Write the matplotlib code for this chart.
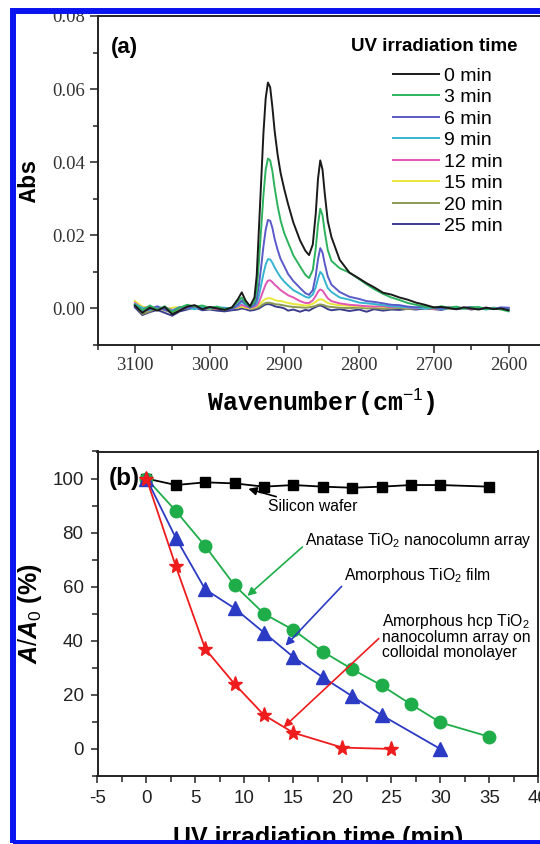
import numpy as np
import matplotlib
matplotlib.use("Agg")
import matplotlib.pyplot as plt
from matplotlib.patches import Rectangle
from matplotlib.ticker import MultipleLocator, FormatStrFormatter
from matplotlib import font_manager

plt.rcParams['axes.unicode_minus'] = False
plt.rcParams['mathtext.fontset'] = 'custom'
plt.rcParams['mathtext.rm'] = 'Liberation Sans'
plt.rcParams['mathtext.it'] = 'Liberation Sans:italic:bold'
plt.rcParams['mathtext.bf'] = 'Liberation Sans:bold'

# ---- panel (a): FTIR spectra, absorbance in units of 0.001 ----
wavenumber = [3100, 3090, 3080, 3070, 3060, 3050, 3040, 3030, 3020, 3010,
              3000, 2990, 2980, 2970, 2962, 2957, 2952, 2946,
              2940, 2937, 2934, 2931, 2928, 2925, 2922, 2919, 2916, 2913, 2909, 2905, 2900,
              2895, 2888, 2879,
              2872, 2867, 2862, 2858, 2855, 2852, 2849, 2846, 2842, 2837,
              2826, 2813, 2800, 2790, 2780, 2768, 2757, 2746, 2735, 2724, 2712, 2700,
              2690, 2680, 2670, 2660, 2650, 2640, 2630, 2620, 2610, 2600]

abs_0 = [0.8, -1.2, 0.2, -0.6, 0.4, -1.6, -0.6, 0.5, 0.9, -0.2,
         0.4, 0.0, -0.4, 0.3, 2.6, 4.4, 2.2, 0.6,
         3.0, 9.0, 22.0, 35.0, 48.0, 57.5, 61.8, 60.5, 55.0, 48.5, 42.0, 37.0, 32.5,
         28.5, 23.5, 18.6,
         15.8, 14.6, 17.5, 26.0, 35.5, 40.5, 38.0, 31.5, 24.0, 19.5,
         13.3, 9.8, 8.2, 6.9, 5.8, 4.3, 3.8, 3.0, 2.4, 1.6, 1.0, 0.3,
         0.4, 0.1, -0.2, 0.3, 0.0, -0.3, 0.2, -0.2, 0.0, -0.5]
abs_3 = [1.0, -0.5, 0.8, -0.3, 0.6, -1.0, 0.2, 1.0, 0.5, 0.8,
         0.2, 0.5, -0.2, 0.2, 2.0, 3.0, 1.5, 0.5,
         1.8, 5.0, 13.0, 22.0, 31.0, 38.0, 41.0, 40.5, 37.5, 33.0, 28.0, 24.0, 20.5,
         18.0, 14.5, 11.5,
         9.2, 8.3, 10.5, 16.5, 23.0, 27.3, 25.5, 21.0, 16.0, 13.0,
         11.0, 9.8, 8.0, 6.6, 5.3, 4.0, 3.0, 2.3, 1.5, 1.0, 0.5, 0.2,
         0.6, 0.2, 0.5, 0.0, 0.3, 0.4, -0.2, 0.1, -0.3, -0.8]
abs_6 = [0.5, -0.8, -0.2, 0.6, -0.4, -0.8, 0.3, 0.0, 0.6, -0.3,
         0.3, 0.2, 0.0, -0.3, 1.2, 2.2, 1.2, 0.2,
         1.0, 2.5, 6.5, 11.5, 17.0, 21.5, 24.2, 24.0, 22.0, 19.0, 16.0, 13.5, 11.5,
         9.4, 7.5, 5.6,
         4.2, 3.7, 5.0, 9.0, 13.5, 16.5, 15.3, 12.3, 8.8, 6.5,
         4.5, 3.2, 2.6, 2.0, 1.8, 1.4, 1.0, 0.9, 0.5, 0.3, 0.6, 0.2,
         0.0, 0.3, -0.2, 0.2, 0.4, 0.0, 0.2, -0.1, 0.3, 0.2]
abs_9 = [1.2, 0.2, -0.4, 0.4, 0.0, -0.6, 0.4, 0.2, -0.2, 0.4,
         0.0, 0.3, 0.2, 0.0, 0.8, 1.8, 1.0, 0.4,
         0.8, 1.5, 3.5, 6.5, 9.5, 12.0, 13.5, 13.4, 12.5, 11.2, 9.8, 8.5, 7.3,
         6.3, 5.0, 4.0,
         3.2, 2.9, 3.8, 5.8, 8.2, 10.0, 9.3, 7.6, 5.6, 4.5,
         3.0, 2.4, 1.6, 1.4, 1.2, 0.9, 0.6, 0.5, 0.3, 0.2, 0.0, 0.2,
         -0.2, 0.1, 0.3, -0.1, 0.2, 0.0, -0.3, 0.1, 0.0, -0.2]
abs_12 = [1.5, 0.0, 0.5, -0.2, 0.3, -0.4, 0.0, 0.3, 0.2, 0.0,
          0.2, -0.1, 0.0, 0.2, 0.5, 1.0, 0.5, 0.2,
          0.5, 0.8, 1.8, 3.3, 5.0, 6.6, 7.6, 7.7, 7.2, 6.5, 5.8, 5.0, 4.3,
          3.6, 3.0, 2.0,
          1.5, 1.5, 2.2, 3.4, 4.6, 5.2, 4.9, 4.0, 2.8, 2.0,
          1.4, 1.0, 0.8, 0.6, 0.5, 0.6, 0.3, 0.5, 0.2, 0.0, 0.2, -0.1,
          0.1, 0.3, 0.0, 0.2, -0.1, 0.1, 0.2, 0.0, 0.1, 0.0]
abs_15 = [2.0, 0.5, 0.0, 0.3, -0.2, 0.2, 0.4, 0.0, 0.2, 0.1,
          0.0, 0.2, 0.0, 0.1, 0.3, 0.5, 0.2, 0.0,
          0.3, 0.5, 1.0, 1.6, 2.2, 2.6, 2.8, 2.8, 2.6, 2.3, 2.1, 2.0, 1.8,
          1.5, 1.2, 1.0,
          0.8, 0.9, 1.3, 1.8, 2.3, 2.5, 2.4, 2.0, 1.5, 1.2,
          0.9, 0.7, 0.6, 0.5, 0.5, 0.4, 0.3, 0.4, 0.2, 0.1, 0.2, 0.0,
          0.1, 0.0, 0.2, 0.0, 0.1, -0.1, 0.0, 0.1, 0.0, 0.1]
abs_20 = [1.0, -1.5, -0.8, 0.2, -0.5, -1.2, -0.3, 0.2, 0.0, 0.3,
          -0.2, 0.1, -0.3, 0.0, 0.2, 0.4, 0.2, -0.1,
          0.0, 0.2, 0.4, 0.8, 1.2, 1.5, 1.6, 1.5, 1.4, 1.2, 1.1, 1.0, 0.8,
          0.6, 0.4, 0.3,
          0.2, 0.3, 0.5, 0.7, 1.0, 1.1, 1.0, 0.8, 0.5, 0.4,
          0.2, 0.1, 0.2, 0.0, 0.1, -0.1, 0.0, 0.1, -0.2, 0.0, 0.1, -0.1,
          0.0, 0.1, -0.1, 0.0, 0.1, -0.1, 0.0, 0.0, -0.2, -0.3]
abs_25 = [0.3, -1.8, -1.0, -0.4, -1.2, -2.0, -0.8, -0.3, 0.3, -0.5,
          -0.3, -0.6, -0.8, -0.5, -0.3, 0.0, -0.2, -0.6,
          -0.4, -0.2, 0.0, 0.4, 0.8, 1.1, 1.2, 1.1, 0.9, 0.6, 0.4, 0.3, 0.0,
          -0.6, -0.3, -0.9,
          -0.4, -0.6, 0.0, 0.4, 0.7, 0.8, 0.6, 0.3, -0.2, -0.5,
          -0.2, -0.7, -0.3, -0.9, -0.2, -0.6, -0.3, -0.4, -0.1, -0.3, 0.0, -0.2,
          -0.4, 0.0, -0.2, 0.1, -0.3, 0.0, -0.1, 0.2, 0.0, 0.0]

spectra = [abs_0, abs_3, abs_6, abs_9, abs_12, abs_15, abs_20, abs_25]
spec_labels = ["0 min", "3 min", "6 min", "9 min", "12 min", "15 min", "20 min", "25 min"]
spec_colors = ["#1a1a1a", "#2db35d", "#5a5ac8", "#35b5d0", "#e055b5", "#e8e83a", "#8a9a55", "#3c3c8c"]

# ---- panel (b): A/A0 vs irradiation time ----
t_si = [0, 3, 6, 9, 12, 15, 18, 21, 24, 27, 30, 35]
si_wafer = [100, 97.6, 98.6, 98.2, 97, 97.6, 97, 96.6, 97, 97.6, 97.6, 97]
t_anatase = [0, 3, 6, 9, 12, 15, 18, 21, 24, 27, 30, 35]
anatase = [100, 88, 75, 60.5, 50, 44, 36, 29.5, 23.5, 16.5, 9.8, 4.5]
t_film = [0, 3, 6, 9, 12, 15, 18, 21, 24, 30]
amorph_film = [100, 78, 59, 52, 43, 34, 26.5, 19.5, 12.5, 0]
t_hcp = [0, 3, 6, 9, 12, 15, 20, 25]
amorph_hcp = [100, 67.5, 37, 24, 12.5, 6, 0.5, 0]

W, H = 540, 844
fig = plt.figure(figsize=(W / 100, H / 100), dpi=100)

def frac(left, top, right, bottom):
    return [left / W, 1 - bottom / H, (right - left) / W, (bottom - top) / H]

installed = {f.name for f in font_manager.fontManager.ttflist}
serif = ['Liberation Serif', 'DejaVu Serif']
mono = ['Liberation Mono', 'DejaVu Sans Mono']
sans = ['Liberation Sans', 'DejaVu Sans']
if 'Liberation Sans Narrow' in installed:
    narrow, narrow_size = ['Liberation Sans Narrow', 'DejaVu Sans'], 13.5
else:
    narrow, narrow_size = sans, 11.3

# ----- (a) -----
ax = fig.add_axes(frac(97.5, 16, 546, 345))
wn = np.array(wavenumber)
for i, (vals, lab, col) in enumerate(zip(spectra, spec_labels, spec_colors)):
    ax.plot(wn, np.array(vals) / 1000, color=col, lw=1.4, label=lab, zorder=10 - i)
ax.set_xlim(3150, 2550)
ax.set_ylim(-0.01, 0.08)
ax.xaxis.set_major_locator(MultipleLocator(100))
ax.xaxis.set_minor_locator(MultipleLocator(50))
ax.yaxis.set_major_locator(MultipleLocator(0.02))
ax.yaxis.set_minor_locator(MultipleLocator(0.01))
ax.yaxis.set_major_formatter(FormatStrFormatter('%.2f'))
ax.tick_params(which='both', direction='out', top=False, right=False, width=1.1, colors='#222222')
ax.tick_params(which='major', length=6, labelsize=13.5, pad=3, labelcolor='#333333')
ax.tick_params(which='minor', length=3.5)
for lbl in ax.get_xticklabels() + ax.get_yticklabels():
    lbl.set_family(serif)
for s in ax.spines.values():
    s.set_linewidth(1.4)
    s.set_color('#222222')
ax.set_xlabel("Wavenumber(cm$^{-1}$)", family=mono, fontweight='bold', fontsize=18, labelpad=9)
ax.set_ylabel("Abs", family=mono, fontweight='bold', fontsize=17, labelpad=8)
ax.text(0.029, 0.903, "(a)", transform=ax.transAxes, family=sans, fontweight='bold',
        fontsize=16, va='center', ha='left')
ax.text(0.566, 0.907, "UV irradiation time", transform=ax.transAxes, family=sans,
        fontweight='bold', fontsize=13.5, va='center', ha='left')
ax.legend(loc='upper left', bbox_to_anchor=(0.658, 0.845), frameon=False,
          prop={'family': sans, 'size': 14}, handlelength=2.4, handletextpad=0.25,
          labelspacing=0.2, borderpad=0, borderaxespad=0)

# ----- (b) -----
bx = fig.add_axes(frac(97.5, 451.5, 538.3, 776))
bx.plot(t_si, si_wafer, '-s', color='black', ms=7, lw=1.3)
bx.plot(t_anatase, anatase, '-o', color='#1fad4a', ms=9, lw=1.3)
bx.plot(t_film, amorph_film, '-^', color='#2b3bc4', ms=9.5, lw=1.3)
bx.plot(t_hcp, amorph_hcp, '-*', color='#ee1c1c', ms=11, lw=1.3)
bx.set_xlim(-5, 40)
bx.set_ylim(-10, 110)
bx.xaxis.set_major_locator(MultipleLocator(5))
bx.xaxis.set_minor_locator(MultipleLocator(2.5))
bx.set_yticks([0, 20, 40, 60, 80, 100])
bx.yaxis.set_minor_locator(MultipleLocator(10))
bx.tick_params(which='both', direction='out', top=False, right=False, width=1.1, colors='#222222')
bx.tick_params(which='major', length=5, labelsize=13.5, pad=5, labelcolor='#222222')
bx.tick_params(which='minor', length=4)
for lbl in bx.get_xticklabels() + bx.get_yticklabels():
    lbl.set_family(sans)
for s in bx.spines.values():
    s.set_linewidth(1.4)
    s.set_color('#222222')
bx.set_ylabel("$A/A_0$ (%)", family=sans, fontweight='bold', fontsize=18, labelpad=6)
bx.text(-3.9, 100, "(b)", family=sans, fontweight='bold', fontsize=17.5, va='center', ha='left')

ann_kw = dict(family=narrow, fontsize=narrow_size)
bx.annotate("Silicon wafer", xy=(10.4, 96.2), xytext=(12.4, 89.5), va='center', ha='left',
            arrowprops=dict(arrowstyle='-|>', color='black', lw=1.2, mutation_scale=12,
                            shrinkA=0, shrinkB=0), **ann_kw)
bx.annotate("Anatase TiO$_2$ nanocolumn array", xy=(10.3, 56.6), xytext=(16.2, 77),
            va='center', ha='left',
            arrowprops=dict(arrowstyle='-|>', color='#1fad4a', lw=1.2, mutation_scale=12,
                            shrinkA=0, shrinkB=0, relpos=(0, 0.3)), **ann_kw)
bx.annotate("Amorphous TiO$_2$ film", xy=(14.2, 38.2), xytext=(20.2, 64),
            va='center', ha='left',
            arrowprops=dict(arrowstyle='-|>', color='#2b3bc4', lw=1.2, mutation_scale=12,
                            shrinkA=0, shrinkB=0, relpos=(0, 0.1)), **ann_kw)
bx.annotate("Amorphous hcp TiO$_2$\nnanocolumn array on\ncolloidal monolayer",
            xy=(14.0, 8.0), xytext=(24.0, 41.8), va='center', ha='left', linespacing=0.95,
            arrowprops=dict(arrowstyle='-|>', color='#ee1c1c', lw=1.2, mutation_scale=12,
                            shrinkA=0, shrinkB=0, relpos=(0, 0.5)), **ann_kw)
bx.set_xlabel("UV irradiation time (min)", family=sans, fontweight='bold', fontsize=18, labelpad=14)

# blue frame around the figure
fig.patches.append(Rectangle((13 / W, 1 - 842.5 / H), 1.2, (842.5 - 11) / H,
                             transform=fig.transFigure, fill=False, edgecolor='#0a14f0',
                             lw=4.3, zorder=100, clip_on=False))

fig.savefig("out.png", dpi=100)
